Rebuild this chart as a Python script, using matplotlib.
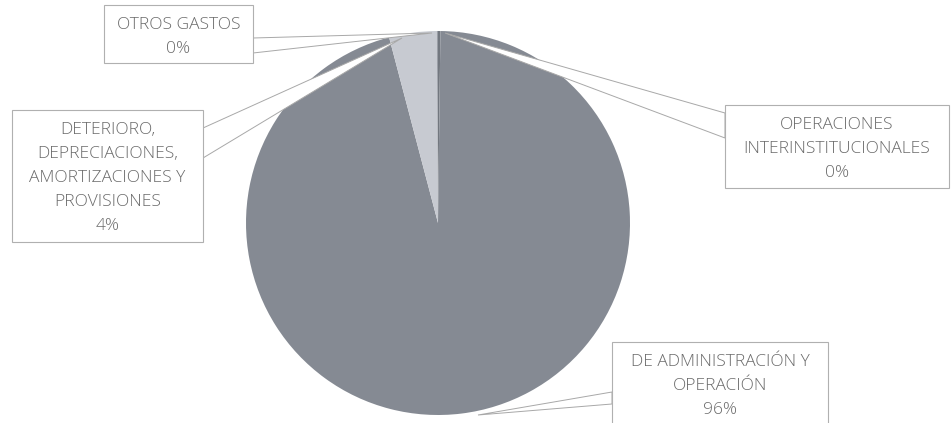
import matplotlib.pyplot as plt
from matplotlib.patches import Polygon, Rectangle

# categorías en orden horario desde las 12
categories = ["OPERACIONES\nINTERINSTITUCIONALES",
              "DE ADMINISTRACIÓN Y\nOPERACIÓN",
              "DETERIORO,\nDEPRECIACIONES,\nAMORTIZACIONES Y\nPROVISIONES",
              "OTROS GASTOS"]
values = [0.2, 95.7, 4.0, 0.1]
pct_labels = ["0%", "96%", "4%", "0%"]
colors = ["#72777f", "#858a93", "#c7cad1", "#9a9ea6"]

W, H = 951, 423


def py(y):
    # coordenadas en píxeles con origen arriba
    return H - y


# cajas de etiqueta: (x0, y0, x1, y1) en píxeles
boxes = [(725, 105, 949, 188), (612, 342, 828, 440),
         (12, 110, 203, 242), (104, 5, 253, 63)]
# líneas guía: punta en la torta y dos puntos en la caja
leaders = [((445, 33), (725, 113), (725, 138)),
           ((478, 415), (612, 392), (612, 404)),
           ((402, 38), (203, 128), (203, 158)),
           ((432, 33), (253, 38), (253, 53))]

fig = plt.figure(figsize=(W / 100, H / 100), dpi=100)
ax = fig.add_axes([0, 0, 1, 1])

ax.pie(values, colors=colors, startangle=90, counterclock=False,
       center=(438, py(223)), radius=192,
       wedgeprops=dict(linewidth=0), frame=True)
ax.set_xlim(0, W)
ax.set_ylim(0, H)
ax.set_aspect("equal")
ax.axis("off")

for (tip, a, b) in leaders:
    pts = [(tip[0], py(tip[1])), (a[0], py(a[1])), (b[0], py(b[1]))]
    ax.add_patch(Polygon(pts, closed=True, facecolor="white",
                         edgecolor="#a8a8a8", linewidth=0.7, zorder=3))

for cat, pct, (x0, y0, x1, y1) in zip(categories, pct_labels, boxes):
    ax.add_patch(Rectangle((x0, py(y1)), x1 - x0, y1 - y0, facecolor="white",
                           edgecolor="#b0b0b0", linewidth=0.8, zorder=4))
    lines = cat.split("\n") + [pct]
    cx = (x0 + x1) / 2
    step = 24
    first = y0 + 20
    for i, txt in enumerate(lines):
        ax.text(cx, py(first + i * step), txt, ha="center", va="center",
                fontsize=12.5, fontweight="light", color="#6a6a6a",
                family="Open Sans", zorder=5)

fig.savefig("out.png", dpi=100, facecolor="white")
